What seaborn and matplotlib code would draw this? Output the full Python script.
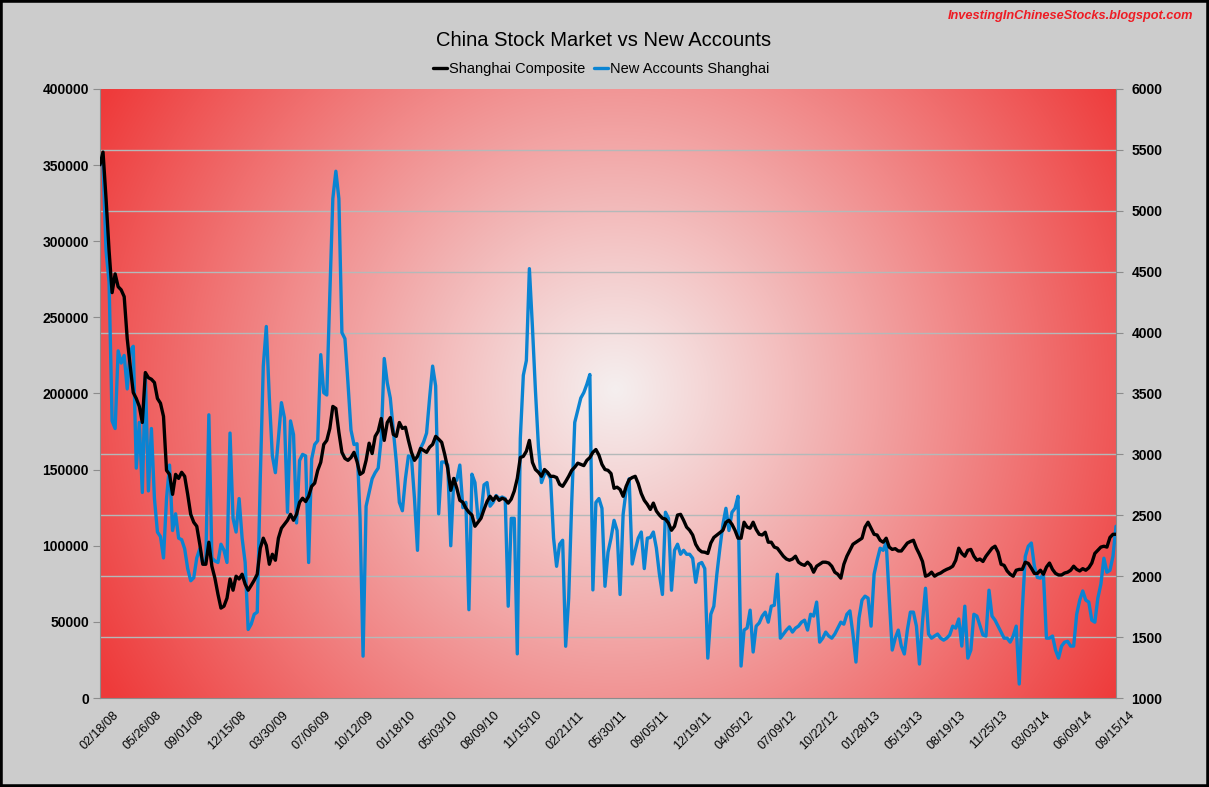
import numpy as np
import matplotlib.pyplot as plt
import seaborn as sns
from matplotlib.lines import Line2D
from matplotlib.patches import Rectangle
from matplotlib.colors import to_rgb

# weekly category axis, a label every 14th week
date_labels = ["02/18/08", "05/26/08", "09/01/08", "12/15/08", "03/30/09", "07/06/09",
               "10/12/09", "01/18/10", "05/03/10", "08/09/10", "11/15/10", "02/21/11",
               "05/30/11", "09/05/11", "12/19/11", "04/05/12", "07/09/12", "10/22/12",
               "01/28/13", "05/13/13", "08/19/13", "11/25/13", "03/03/14", "06/09/14",
               "09/15/14"]

# Shanghai Composite (right axis)
shanghai_composite = [
    5378, 5482, 5099, 4673, 4328, 4482, 4377, 4351, 4295, 3951, 3722, 3508, 3459, 3394,
    3262, 3672, 3630, 3617, 3590, 3459, 3420, 3312, 2869, 2836, 2672, 2836, 2803, 2853,
    2820, 2672, 2508, 2443, 2410, 2262, 2098, 2098, 2279, 2082, 1984, 1853, 1738, 1754,
    1820, 1977, 1885, 2000, 1977, 2016, 1935, 1885, 1925, 1967, 2016, 2230, 2312, 2253,
    2098, 2180, 2131, 2312, 2394, 2426, 2459, 2508, 2459, 2508, 2607, 2640, 2613, 2656,
    2738, 2764, 2869, 2935, 3082, 3115, 3213, 3394, 3377, 3181, 3017, 2967, 2951, 2974,
    3017, 2941, 2836, 2853, 2951, 3092, 3007, 3148, 3190, 3295, 3115, 3262, 3302, 3164,
    3148, 3262, 3213, 3223, 3115, 3017, 2951, 2984, 3049, 3033, 3017, 3059, 3082, 3148,
    3125, 3099, 3000, 2885, 2705, 2803, 2722, 2623, 2607, 2558, 2525, 2502, 2410, 2443,
    2476, 2548, 2613, 2656, 2623, 2656, 2623, 2640, 2630, 2600, 2633, 2699, 2803, 2974,
    2984, 3026, 3115, 2935, 2876, 2853, 2820, 2876, 2853, 2820, 2820, 2810, 2754, 2738,
    2777, 2820, 2869, 2895, 2928, 2918, 2908, 2951, 2974, 3017, 3040, 2994, 2918, 2876,
    2869, 2843, 2722, 2731, 2712, 2656, 2738, 2794, 2810, 2820, 2761, 2679, 2623, 2590,
    2548, 2600, 2535, 2502, 2476, 2469, 2436, 2377, 2410, 2502, 2508, 2459, 2403, 2377,
    2338, 2262, 2220, 2200, 2197, 2187, 2272, 2318, 2338, 2357, 2377, 2443, 2459, 2426,
    2377, 2312, 2312, 2443, 2403, 2394, 2443, 2384, 2344, 2338, 2361, 2279, 2279, 2239,
    2230, 2197, 2164, 2141, 2131, 2141, 2164, 2115, 2098, 2089, 2115, 2089, 2033, 2082,
    2098, 2115, 2115, 2108, 2082, 2033, 2016, 1984, 2098, 2164, 2213, 2262, 2279, 2295,
    2312, 2403, 2443, 2394, 2344, 2338, 2295, 2279, 2312, 2239, 2220, 2226, 2207, 2207,
    2239, 2272, 2285, 2295, 2230, 2180, 2121, 2000, 2010, 2033, 2000, 2016, 2026, 2043,
    2056, 2066, 2082, 2131, 2230, 2187, 2164, 2213, 2220, 2164, 2131, 2141, 2121, 2164,
    2197, 2230, 2246, 2197, 2098, 2089, 2043, 2016, 2000, 2049, 2056, 2056, 2115, 2105,
    2066, 2023, 2023, 2049, 2016, 2075, 2108, 2056, 2023, 2010, 2010, 2026, 2033, 2049,
    2082, 2056, 2043, 2062, 2049, 2069, 2108, 2187, 2213, 2239, 2246, 2239, 2318, 2344, 2344,
]

# New Accounts Shanghai (left axis)
new_accounts = [
    354000, 350000, 294000, 273000, 182000, 177000, 228000, 220000, 225000, 203000, 228000, 231000, 151000, 181000,
    135000, 212000, 136000, 177000, 131000, 109000, 106000, 92000, 131000, 153000, 110000, 121000, 105000, 104000,
    98000, 85000, 77000, 79000, 92000, 98000, 88000, 90000, 186000, 92000, 90000, 89000, 101000, 97000,
    89000, 174000, 118000, 109000, 131000, 105000, 89000, 45000, 48500, 55000, 56400, 144000, 218000, 244000,
    197000, 159000, 148000, 170500, 194000, 184000, 122000, 182000, 173000, 115000, 156000, 160000, 159000, 89000,
    157000, 166500, 169000, 225500, 200500, 199000, 265000, 328000, 346000, 328000, 240000, 236000, 207000, 176000,
    166500, 167000, 118000, 27500, 126000, 135000, 144000, 148000, 151000, 170500, 223000, 207000, 197000, 176000,
    155000, 128500, 123000, 144000, 159000, 158000, 131000, 97000, 164000, 168000, 174000, 197000, 218000, 205000,
    121000, 155000, 155000, 153000, 100000, 144000, 143000, 153000, 125000, 128500, 58000, 147000, 141500, 118000,
    121000, 140000, 141500, 126000, 128500, 133000, 131000, 132000, 131000, 60300, 118000, 118000, 29000, 170500,
    212000, 221600, 282000, 244000, 202000, 165000, 141500, 147000, 148000, 144000, 105000, 86500, 101000, 103600,
    34000, 65600, 128500, 181000, 189000, 197000, 200600, 206000, 212500, 71000, 128500, 131000, 124600, 73400,
    95700, 105000, 116700, 110000, 68000, 120600, 136400, 144000, 88000, 97000, 105000, 109000, 85000, 105000,
    105400, 109000, 98400, 81300, 68000, 122000, 118000, 70800, 97000, 101000, 94400, 97000, 94400, 94400,
    91800, 76000, 88000, 89000, 85000, 26200, 55000, 60300, 81300, 98400, 114000, 124600, 110000, 122000,
    124600, 132500, 21000, 44600, 46000, 57700, 30200, 47200, 49300, 53800, 56400, 49800, 60300, 60900,
    81300, 39300, 42000, 44600, 46700, 43300, 45900, 47200, 49800, 51100, 44600, 55000, 53800, 63000,
    36700, 39300, 43300, 40700, 39300, 42000, 45900, 49800, 48500, 55000, 57200, 42000, 23600, 52500,
    64300, 66900, 65600, 47200, 81300, 90500, 98400, 97000, 102300, 65600, 31500, 39300, 44600, 34100,
    28900, 44600, 56400, 56400, 47200, 22300, 49800, 72100, 42000, 39300, 40700, 42000, 39300, 38000,
    39300, 41400, 47200, 45900, 51900, 34100, 60300, 26200, 31500, 55000, 53800, 47700, 41400, 40700,
    70800, 53800, 51100, 47200, 43300, 39300, 39300, 36700, 40700, 47200, 9200, 57700, 93000, 99700,
    101800, 86600, 79200, 78700, 81300, 39300, 39300, 40700, 31500, 26200, 34100, 36700, 37200, 34100,
    34100, 55000, 64300, 70300, 64300, 63000, 51100, 49800, 65600, 74800, 91800, 82600, 83900, 93100, 112800,
]

weeks = np.arange(len(shanghai_composite))

sns.set_style("white")
plt.rcParams['font.family'] = ['Liberation Sans', 'DejaVu Sans']
plt.rcParams['text.color'] = 'black'

blue = '#0a84d2'
grid_col = '#b4b9b9'
axis_col = '#8c8c8c'

fig = plt.figure(figsize=(12.09, 7.87), dpi=100, facecolor='#cccccc')
ax = fig.add_axes([100 / 1209, 89 / 787, 1016 / 1209, 609 / 787])

# radial "from center" fill of the plot area
W, H = 1016, 609
yy, xx = np.mgrid[0:H, 0:W]
d = np.hypot(xx - 515, yy - 300) / 590
t = np.clip(d, 0, 1) ** 1.05
c0 = np.array(to_rgb('#f5efef'))
c1 = np.array(to_rgb('#ee3a3a'))
grad = c0 * (1 - t[..., None]) + c1 * t[..., None]
ax.imshow(grad, extent=[0, len(weeks) - 1, 0, 400000], aspect='auto', zorder=0,
          interpolation='bilinear')

sns.lineplot(x=weeks, y=new_accounts, ax=ax, color=blue, linewidth=2.4, legend=False, zorder=3)

ax2 = ax.twinx()
sns.lineplot(x=weeks, y=shanghai_composite, ax=ax2, color='black', linewidth=2.4, legend=False, zorder=3)

ax.set_xlim(0, len(weeks) - 1)
ax.set_ylim(0, 400000)
ax2.set_ylim(1000, 6000)
ax.set_xlabel('')
ax.set_ylabel('')
ax2.set_ylabel('')

left_ticks = np.arange(0, 400001, 50000)
ax.set_yticks(left_ticks)
ax.set_yticklabels([str(v) for v in left_ticks], fontsize=10, fontweight='bold')
# gridlines follow the right axis (every 500)
ax.set_yticks(np.arange(0, 400001, 40000), minor=True)
ax.grid(True, which='minor', axis='y', color=grid_col, linewidth=1)
ax.set_axisbelow(True)

right_ticks = np.arange(1000, 6001, 500)
ax2.set_yticks(right_ticks)
ax2.set_yticklabels([str(v) for v in right_ticks], fontsize=10, fontweight='bold')

ax.set_xticks(np.arange(0, len(weeks), 14))
ax.set_xticklabels(date_labels, rotation=45, fontsize=9)
ax.set_xticks(weeks, minor=True)

ax.tick_params(axis='x', which='both', direction='out', length=4, color=axis_col, pad=4,
               labelcolor='black')
ax.tick_params(axis='y', which='major', direction='out', length=5, color=axis_col, pad=3,
               labelcolor='black')
ax.tick_params(axis='y', which='minor', length=0)
ax2.tick_params(axis='y', which='major', direction='out', length=5, color=axis_col, pad=6,
                labelcolor='black')

for s in ['top', 'right']:
    ax.spines[s].set_visible(False)
for s in ['top', 'left', 'bottom']:
    ax2.spines[s].set_visible(False)
ax.spines['left'].set_color(axis_col)
ax.spines['bottom'].set_color(axis_col)
ax2.spines['right'].set_color(axis_col)

fig.text(0.499, 1 - 40 / 787, 'China Stock Market vs New Accounts', ha='center', va='center',
         fontsize=14.5, color='black')

handles = [Line2D([], [], color='black', lw=2.4), Line2D([], [], color=blue, lw=2.4)]
fig.legend(handles, ['Shanghai Composite', 'New Accounts Shanghai'], loc='center',
           bbox_to_anchor=(0.497, 1 - 69 / 787), ncol=2, frameon=False, fontsize=10.5,
           handlelength=1.0, handletextpad=0.1, columnspacing=0.6, labelcolor='black')

fig.text(1193 / 1209, 1 - 16 / 787, 'InvestingInChineseStocks.blogspot.com', ha='right',
         va='center', color='#ee1c24', fontsize=9.2, fontweight='bold', fontstyle='italic')

fig.patches.append(Rectangle((0, 0), 1, 1, transform=fig.transFigure, fill=False,
                             edgecolor='black', linewidth=4))

fig.savefig('out.png', dpi=100, facecolor=fig.get_facecolor())
